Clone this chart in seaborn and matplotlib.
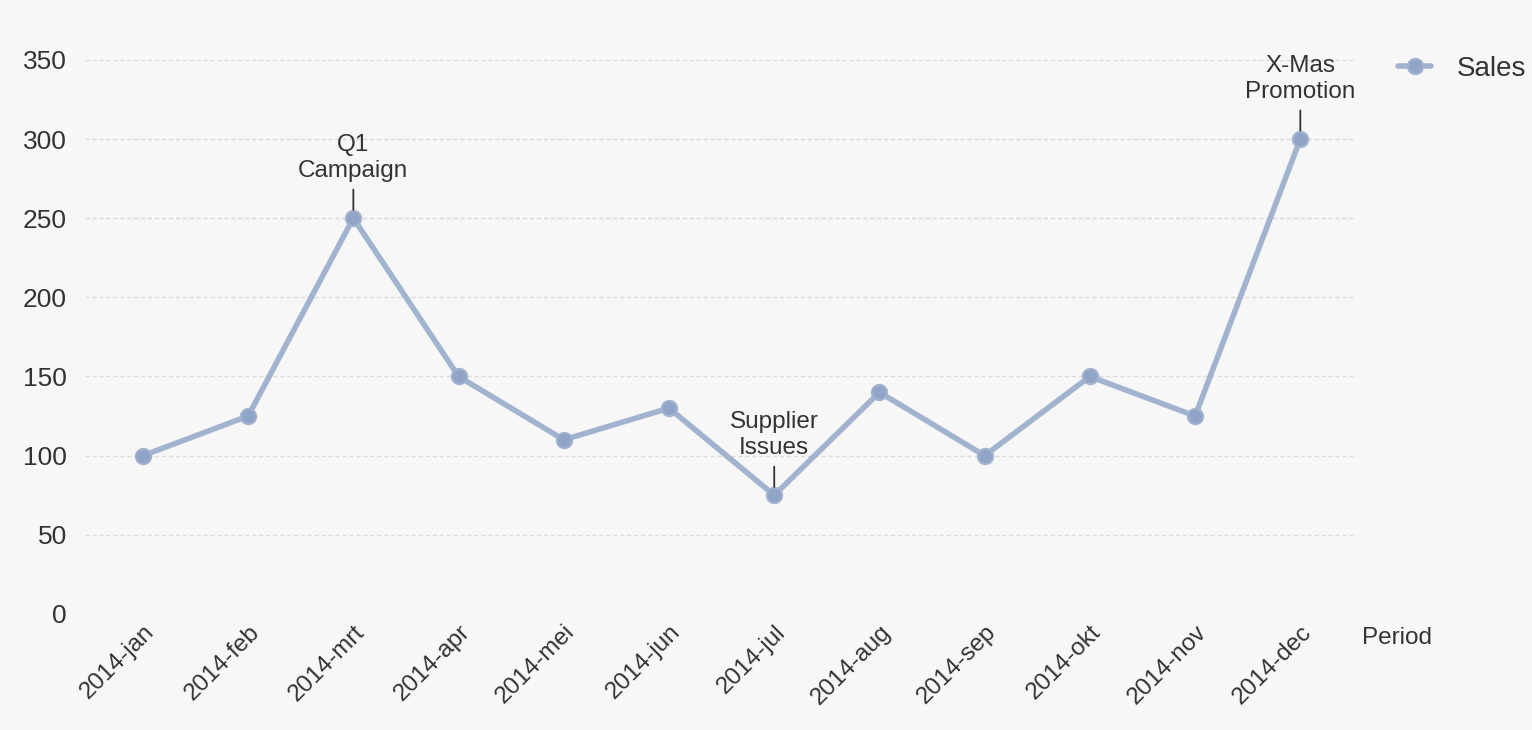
import matplotlib
matplotlib.use("Agg")
import matplotlib.pyplot as plt
import seaborn as sns
import pandas as pd

# Monthly sales for 2014
periods = ["2014-jan", "2014-feb", "2014-mrt", "2014-apr", "2014-mei", "2014-jun",
           "2014-jul", "2014-aug", "2014-sep", "2014-okt", "2014-nov", "2014-dec"]
sales = [100, 125, 250, 150, 110, 130, 75, 140, 100, 150, 125, 300]

# Event notes attached to specific months
note_periods = ["2014-mrt", "2014-jul", "2014-dec"]
note_texts = ["Q1\nCampaign", "Supplier\nIssues", "X-Mas\nPromotion"]

y_ticks = [0, 50, 100, 150, 200, 250, 300, 350]

sns.set_theme(style="white")
plt.rcParams["font.family"] = ["Liberation Sans", "DejaVu Sans"]

bg = "#f7f7f7"
line_col = "#a2b3cf"
marker_col = "#8fa4c7"
text_col = "#333333"

df = pd.DataFrame({"Period": periods, "Sales": sales})

fig = plt.figure(figsize=(15.32, 7.30), dpi=100, facecolor=bg)
ax = fig.add_axes([0.0555, 0.159, 0.829, 0.759])
ax.set_facecolor(bg)

sns.lineplot(data=df, x="Period", y="Sales", sort=False, ax=ax,
             color=line_col, linewidth=4, marker="o", markersize=11,
             markerfacecolor=marker_col, markeredgecolor=line_col,
             markeredgewidth=1.5, label="Sales", zorder=3)

ax.set_ylim(0, 350)
ax.set_xlim(-0.55, 11.52)
ax.set_yticks(y_ticks)
ax.set_yticklabels([str(v) for v in y_ticks])
ax.grid(axis="y", color="#d9d9d9", linestyle=(0, (3, 2)), linewidth=1)
ax.grid(axis="x", visible=False)
for s in ax.spines.values():
    s.set_visible(False)
ax.tick_params(axis="y", length=0, pad=13, labelsize=19, labelcolor=text_col)
ax.tick_params(axis="x", length=0, pad=5, labelsize=17.5, labelcolor=text_col)
for lbl in ax.get_xticklabels():
    lbl.set_rotation(45)
    lbl.set_ha("right")
    lbl.set_rotation_mode("anchor")
ax.set_xlabel("")
ax.set_ylabel("")

# Event annotations with a short leader line above each point
for p, t in zip(note_periods, note_texts):
    i = periods.index(p)
    ax.annotate(t, xy=(i, sales[i]), xytext=(0, 36), textcoords="offset pixels",
                ha="center", va="bottom", fontsize=17.5, color=text_col,
                linespacing=1.25,
                arrowprops=dict(arrowstyle="-", color=text_col, lw=1.3,
                                shrinkA=3, shrinkB=6))

# Axis title placed at the right end of the category axis
fig.text(1362 / 1532, 1 - 638 / 730, "Period", ha="left", va="center",
         fontsize=17.5, color=text_col)

leg = ax.legend(loc="upper left", bbox_to_anchor=(1398 / 1532, 1 - 56 / 730),
                bbox_transform=fig.transFigure, frameon=False,
                fontsize=20, handlelength=1.2, labelcolor=text_col,
                handletextpad=0.9, borderpad=0, borderaxespad=0)

fig.savefig("out.png", dpi=100, facecolor=bg)
